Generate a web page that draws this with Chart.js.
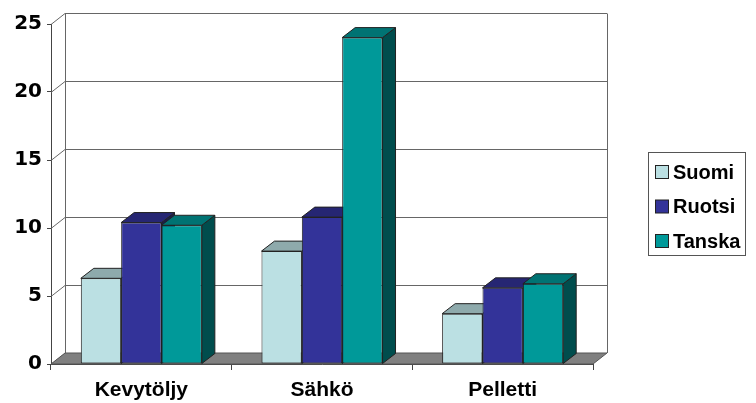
<!DOCTYPE html>
<html>
<head>
<meta charset="utf-8">
<script src="https://cdn.jsdelivr.net/npm/chart.js@4"></script>
<style>
  body { margin: 0; background: #fff; }
</style>
</head>
<body>
<canvas id="chart" width="756" height="403"></canvas>
<script>
// Data
const categories = ["Kevytöljy", "Sähkö", "Pelletti"];
const suomi = [6.3, 8.3, 3.7];
const ruotsi = [10.4, 10.8, 5.6];
const tanska = [10.2, 24.0, 5.9];
const yTicks = [0, 5, 10, 15, 20, 25];

// front, top, side colours per series
const palette = [
    { front: "#bbe0e3", top: "#8eaaac", side: "#5e7071" },
    { front: "#333399", top: "#262673", side: "#1a1a4d" },
    { front: "#009999", top: "#007373", side: "#004d4d" }
];

const DX = 13, DY = 10;   // bar depth
const WDX = 14, WDY = 11; // wall depth

const poly = (ctx, pts, fill, stroke) => {
    ctx.beginPath();
    ctx.moveTo(pts[0][0], pts[0][1]);
    pts.slice(1).forEach(p => ctx.lineTo(p[0], p[1]));
    ctx.closePath();
    if (fill) { ctx.fillStyle = fill; ctx.fill(); }
    if (stroke) { ctx.strokeStyle = stroke; ctx.stroke(); }
};

const threeD = {
    id: "threeD",
    beforeDatasetsDraw(chart) {
        const { ctx, chartArea: a, scales: { y } } = chart;
        ctx.save();
        ctx.lineWidth = 1;
        ctx.strokeStyle = "#666";
        // back wall grid + diagonals from the front axis
        yTicks.forEach(v => {
            const py = Math.round(y.getPixelForValue(v)) + 0.5;
            ctx.beginPath();
            ctx.moveTo(a.left, py);
            ctx.lineTo(a.left + WDX, py - WDY);
            if (v > 0) ctx.lineTo(a.right + WDX, py - WDY);
            ctx.stroke();
        });
        const topY = Math.round(y.getPixelForValue(yTicks[yTicks.length - 1])) + 0.5 - WDY;
        ctx.beginPath();
        ctx.moveTo(a.left + WDX + 0.5, topY);
        ctx.lineTo(a.left + WDX + 0.5, a.bottom - WDY);
        ctx.moveTo(a.right + WDX + 0.5, topY);
        ctx.lineTo(a.right + WDX + 0.5, a.bottom - WDY);
        ctx.stroke();
        // floor
        poly(ctx, [[a.left, a.bottom], [a.right, a.bottom], [a.right + WDX, a.bottom - WDY], [a.left + WDX, a.bottom - WDY]], "#808080", "#555");

        // bar sides and tops, left to right
        categories.forEach((c, i) => {
            chart.data.datasets.forEach((ds, d) => {
                const el = chart.getDatasetMeta(d).data[i];
                const { x, y: top, base, width } = el.getProps(["x", "y", "base", "width"], true);
                const l = x - width / 2, r = x + width / 2;
                const col = palette[d];
                poly(ctx, [[r, top], [r + DX, top - DY], [r + DX, base - DY], [r, base]], col.side, "#222");
                poly(ctx, [[l, top], [l + DX, top - DY], [r + DX, top - DY], [r, top]], col.top, "#222");
            });
        });
        ctx.restore();
    },
    afterDraw(chart) {
        const { ctx } = chart;
        ctx.save();
        ctx.lineWidth = 1;
        ctx.strokeStyle = "#555";
        ctx.strokeRect(648.5, 152.5, 97, 103);
        ctx.font = "bold 20px 'Liberation Sans', Arial, sans-serif";
        ctx.textBaseline = "middle";
        chart.data.datasets.forEach((ds, d) => {
            const cy = 172 + d * 34.5;
            ctx.fillStyle = palette[d].front;
            ctx.fillRect(655.5, cy - 6.5, 13, 13);
            ctx.strokeStyle = "#222";
            ctx.strokeRect(655.5, cy - 6.5, 13, 13);
            ctx.fillStyle = "#000";
            ctx.fillText(ds.label, 673, cy + 1);
        });
        ctx.restore();
    }
};

new Chart(document.getElementById("chart"), {
    type: "bar",
    data: {
        labels: categories,
        datasets: [
            { label: "Suomi", data: suomi },
            { label: "Ruotsi", data: ruotsi },
            { label: "Tanska", data: tanska }
        ].map((ds, d) => ({
            ...ds,
            backgroundColor: palette[d].front,
            borderColor: "#222",
            borderWidth: 1,
            borderSkipped: false,
            categoryPercentage: 0.67,
            barPercentage: 1
        }))
    },
    options: {
        responsive: false,
        animation: false,
        layout: { padding: { left: 0, top: 24, right: 163, bottom: 0 } },
        plugins: { legend: { display: false }, tooltip: { enabled: false } },
        scales: {
            x: {
                afterFit: s => { s.height = 39; },
                grid: { drawOnChartArea: false, tickLength: 6, color: "#444" },
                border: { color: "#444" },
                ticks: {
                    color: "#000",
                    padding: 8,
                    font: { family: "'Liberation Sans', Arial, sans-serif", size: 21, weight: "bold" }
                }
            },
            y: {
                min: 0,
                max: 25,
                afterFit: s => { s.width = 51; },
                afterBuildTicks: s => { s.ticks = yTicks.map(v => ({ value: v })); },
                grid: { drawOnChartArea: false, tickLength: 4, color: "#444" },
                border: { color: "#444" },
                ticks: {
                    color: "#000",
                    padding: 5,
                    font: { family: "'DejaVu Sans', sans-serif", size: 20, weight: "bold" }
                }
            }
        }
    },
    plugins: [threeD]
});
</script>
</body>
</html>
